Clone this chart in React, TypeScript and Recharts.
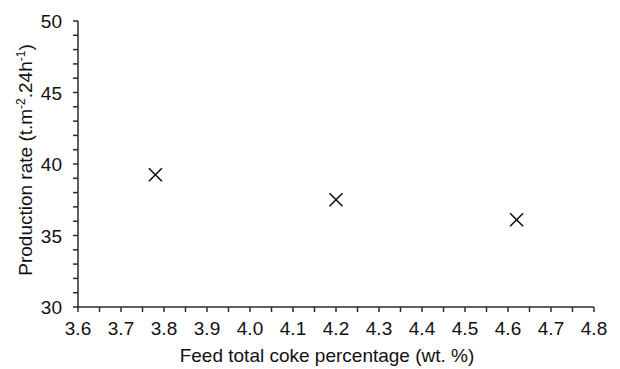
import { ScatterChart, Scatter, XAxis, YAxis } from "recharts";

const cokePct = [3.78, 4.2, 4.62];
const productionRate = [39.25, 37.5, 36.1];

const xTicks = [
  3.6, 3.65, 3.7, 3.75, 3.8, 3.85, 3.9, 3.95, 4.0, 4.05, 4.1, 4.15, 4.2, 4.25,
  4.3, 4.35, 4.4, 4.45, 4.5, 4.55, 4.6, 4.65, 4.7, 4.75, 4.8,
];
const xLabelled = [3.6, 3.7, 3.8, 3.9, 4.0, 4.1, 4.2, 4.3, 4.4, 4.5, 4.6, 4.7, 4.8];
const yTicks = [
  30, 31, 32, 33, 34, 35, 36, 37, 38, 39, 40, 41, 42, 43, 44, 45, 46, 47, 48,
  49, 50,
];
const yLabelled = [30, 35, 40, 45, 50];

const data = cokePct.map((x, i) => ({ x, y: productionRate[i] }));

const AXIS = "#2b2b2b";
const FONT = "'Liberation Sans', Arial, sans-serif";
const FS = 19;

function Cross(props: any) {
  const { cx, cy } = props;
  const r = 6.5;
  return (
    <g stroke="#111" strokeWidth={1.6}>
      <line x1={cx - r} y1={cy - r} x2={cx + r} y2={cy + r} />
      <line x1={cx - r} y1={cy + r} x2={cx + r} y2={cy - r} />
    </g>
  );
}

function XTick(props: any) {
  const { x, y, payload } = props;
  const v = payload.value;
  if (!xLabelled.some((t) => Math.abs(t - v) < 1e-6)) return null;
  return (
    <text x={x} y={y + 23} textAnchor="middle" fontSize={FS} fill="#111">
      {v.toFixed(1)}
    </text>
  );
}

function YTick(props: any) {
  const { x, y, payload } = props;
  const v = payload.value;
  if (!yLabelled.includes(v)) return null;
  return (
    <text x={x - 11} y={y + 7} textAnchor="end" fontSize={FS} fill="#111">
      {v}
    </text>
  );
}

export default function App() {
  return (
    <div style={{ position: "absolute", left: 0, top: 0, background: "#fff" }}>
      <ScatterChart
        width={620}
        height={369}
        margin={{ top: 21, right: 26, left: 38, bottom: 31 }}
        style={{ fontFamily: FONT }}
      >
        <XAxis
          type="number"
          dataKey="x"
          domain={[3.6, 4.8]}
          ticks={xTicks}
          interval={0}
          height={31}
          tickSize={5}
          tickMargin={0}
          stroke={AXIS}
          strokeWidth={1.5}
          tick={<XTick />}
          allowDataOverflow
        />
        <XAxis
          xAxisId="top"
          orientation="top"
          type="number"
          domain={[3.6, 4.8]}
          tick={false}
          tickLine={false}
          height={0}
          stroke={AXIS}
          strokeWidth={1.5}
        />
        <YAxis
          type="number"
          dataKey="y"
          domain={[30, 50]}
          ticks={yTicks}
          interval={0}
          width={40}
          tickSize={5}
          tickMargin={0}
          stroke={AXIS}
          strokeWidth={1.5}
          tick={<YTick />}
        />
        <YAxis
          yAxisId="right"
          orientation="right"
          type="number"
          domain={[30, 50]}
          tick={false}
          tickLine={false}
          width={0}
          stroke={AXIS}
          strokeWidth={1.5}
        />
        <Scatter data={data} shape={<Cross />} isAnimationActive={false} />
        <text
          x={327}
          y={362}
          textAnchor="middle"
          fontSize={FS}
          fill="#111"
        >
          Feed total coke percentage (wt. %)
        </text>
        <text
          transform="translate(32,160) rotate(-90)"
          textAnchor="middle"
          fontSize={FS}
          fill="#111"
        >
          Production rate (t.m
          <tspan dy={-7} fontSize={12}>-2</tspan>
          <tspan dy={7}>.24h</tspan>
          <tspan dy={-7} fontSize={12}>-1</tspan>
          <tspan dy={7}>)</tspan>
        </text>
      </ScatterChart>
    </div>
  );
}
